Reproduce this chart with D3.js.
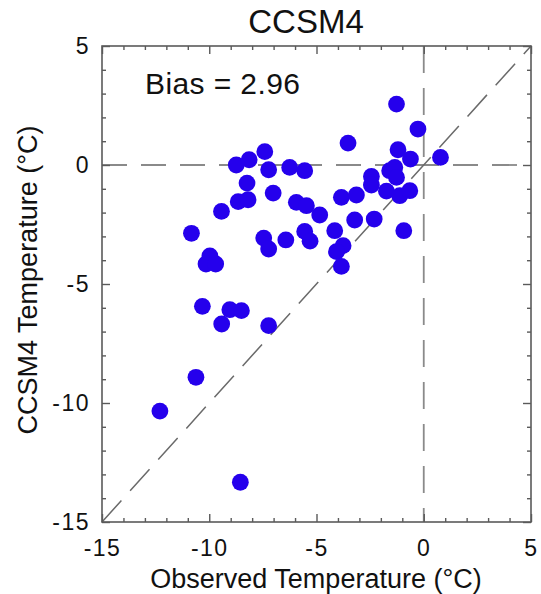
<!DOCTYPE html>
<html>
<head>
<meta charset="utf-8">
<script src="https://cdn.jsdelivr.net/npm/d3@7"></script>
<style>
  html, body { margin: 0; padding: 0; background: #fff; }
  svg { display: block; font-family: "Liberation Sans", Arial, Helvetica, sans-serif; }
</style>
</head>
<body>
<svg id="chart" width="541" height="594"></svg>
<script>
// Observed vs. modelled (CCSM4) temperatures, °C
const observed = [
  -12.30, -10.62, -8.55, -10.83, -9.97, -10.15, -9.70, -10.32, -9.42, -9.04,
  -8.50, -7.23, -9.43, -7.46, -7.23, -6.43, -5.55, -5.30, -8.74, -8.14,
  -7.41, -7.23, -8.24, -7.02, -8.65, -8.19, -6.25, -5.55, -5.94, -5.47,
  -1.27, -0.27, -3.53, -1.20, -0.62, 0.78, -2.44, -1.59, -1.35, -2.44,
  -1.27, -1.74, -1.12, -0.65, -3.84, -3.14, -4.85, -3.22, -2.31, -4.15,
  -0.93, -3.76, -4.07, -3.84
];
const modelled = [
  -10.34, -8.92, -13.33, -2.87, -3.82, -4.16, -4.16, -5.94, -6.68, -6.08,
  -6.12, -6.75, -1.95, -3.07, -3.53, -3.15, -2.79, -3.20, 0.00, 0.22,
  0.56, -0.20, -0.76, -1.18, -1.54, -1.46, -0.10, -0.24, -1.57, -1.71,
  2.56, 1.51, 0.92, 0.64, 0.25, 0.32, -0.48, -0.24, -0.10, -0.84,
  -0.52, -1.10, -1.29, -1.08, -1.36, -1.26, -2.10, -2.31, -2.27, -2.76,
  -2.76, -3.39, -3.64, -4.26
];
const majorTicks = [-15, -10, -5, 0, 5];
const minorTicks = d3.range(-15, 6, 1).filter(v => !majorTicks.includes(v));
const titleText = "CCSM4";
const biasText = "Bias = 2.96";
const xTitle = "Observed Temperature (°C)";
const yTitle = "CCSM4 Temperature (°C)";

const svg = d3.select("#chart");
const plotLeft = 102, plotRight = 531, plotTop = 46, plotBottom = 522;

const x = d3.scaleLinear().domain([-15, 5]).range([plotLeft, plotRight]);
const y = d3.scaleLinear().domain([-15, 5]).range([plotBottom, plotTop]);

const axisColor = "#5a5a5a";
const dashColor = "#8a8a8a";

// reference lines: y = 0, x = 0 and the 1:1 diagonal
const ref = svg.append("g").attr("fill", "none");
ref.append("line")
  .attr("x1", x(-15)).attr("x2", x(5)).attr("y1", y(0)).attr("y2", y(0))
  .attr("stroke", dashColor).attr("stroke-width", 1.8).attr("stroke-dasharray", "25,14");
ref.append("line")
  .attr("x1", x(0)).attr("x2", x(0)).attr("y1", y(5)).attr("y2", y(-15))
  .attr("stroke", dashColor).attr("stroke-width", 1.8).attr("stroke-dasharray", "27,15");
ref.append("line")
  .attr("x1", x(-15)).attr("y1", y(-15)).attr("x2", x(5)).attr("y2", y(5))
  .attr("stroke", "#6a6a6a").attr("stroke-width", 1.5).attr("stroke-dasharray", "29,13");

// axes on all four sides, ticks pointing inward
function styleAxis(g) {
  g.select(".domain").remove();
  g.selectAll(".tick line").attr("stroke", axisColor).attr("stroke-width", 1.4);
  g.selectAll("text").attr("fill", "#111").attr("font-size", 23)
    .attr("letter-spacing", "1.5px");
}
const fmt = d => String(d);

svg.append("g").attr("transform", `translate(0,${plotBottom})`)
  .call(d3.axisBottom(x).tickValues(majorTicks).tickSize(-8).tickPadding(17.5).tickFormat(fmt))
  .call(styleAxis);
svg.append("g").attr("transform", `translate(0,${plotBottom})`)
  .call(d3.axisBottom(x).tickValues(minorTicks).tickSize(-4).tickFormat(""))
  .call(styleAxis);
svg.append("g").attr("transform", `translate(0,${plotTop})`)
  .call(d3.axisTop(x).tickValues(majorTicks).tickSize(-8).tickFormat(""))
  .call(styleAxis);
svg.append("g").attr("transform", `translate(0,${plotTop})`)
  .call(d3.axisTop(x).tickValues(minorTicks).tickSize(-4).tickFormat(""))
  .call(styleAxis);
svg.append("g").attr("transform", `translate(${plotLeft},0)`)
  .call(d3.axisLeft(y).tickValues(majorTicks).tickSize(-8).tickPadding(12).tickFormat(fmt))
  .call(styleAxis);
svg.append("g").attr("transform", `translate(${plotLeft},0)`)
  .call(d3.axisLeft(y).tickValues(minorTicks).tickSize(-4).tickFormat(""))
  .call(styleAxis);
svg.append("g").attr("transform", `translate(${plotRight},0)`)
  .call(d3.axisRight(y).tickValues(majorTicks).tickSize(-8).tickFormat(""))
  .call(styleAxis);
svg.append("g").attr("transform", `translate(${plotRight},0)`)
  .call(d3.axisRight(y).tickValues(minorTicks).tickSize(-4).tickFormat(""))
  .call(styleAxis);

// plot frame
svg.append("rect")
  .attr("x", plotLeft).attr("y", plotTop)
  .attr("width", plotRight - plotLeft).attr("height", plotBottom - plotTop)
  .attr("fill", "none").attr("stroke", axisColor).attr("stroke-width", 1.6);

// data points
svg.append("g").selectAll("circle")
  .data(observed.map((o, i) => ({ o, m: modelled[i] })))
  .join("circle")
  .attr("cx", d => x(d.o))
  .attr("cy", d => y(d.m))
  .attr("r", 8.4)
  .attr("fill", "#2500ec");

// text
svg.append("text").attr("x", 306).attr("y", 33).attr("text-anchor", "middle")
  .attr("font-size", 33).attr("fill", "#111").text(titleText);
svg.append("text").attr("x", 145).attr("y", 94)
  .attr("font-size", 30).attr("letter-spacing", "0.4px").attr("fill", "#111").text(biasText);
svg.append("text").attr("x", 316).attr("y", 588).attr("text-anchor", "middle")
  .attr("font-size", 27).attr("fill", "#111").text(xTitle);
svg.append("text").attr("transform", "translate(37,280) rotate(-90)")
  .attr("text-anchor", "middle")
  .attr("font-size", 27).attr("fill", "#111").text(yTitle);
</script>
</body>
</html>
